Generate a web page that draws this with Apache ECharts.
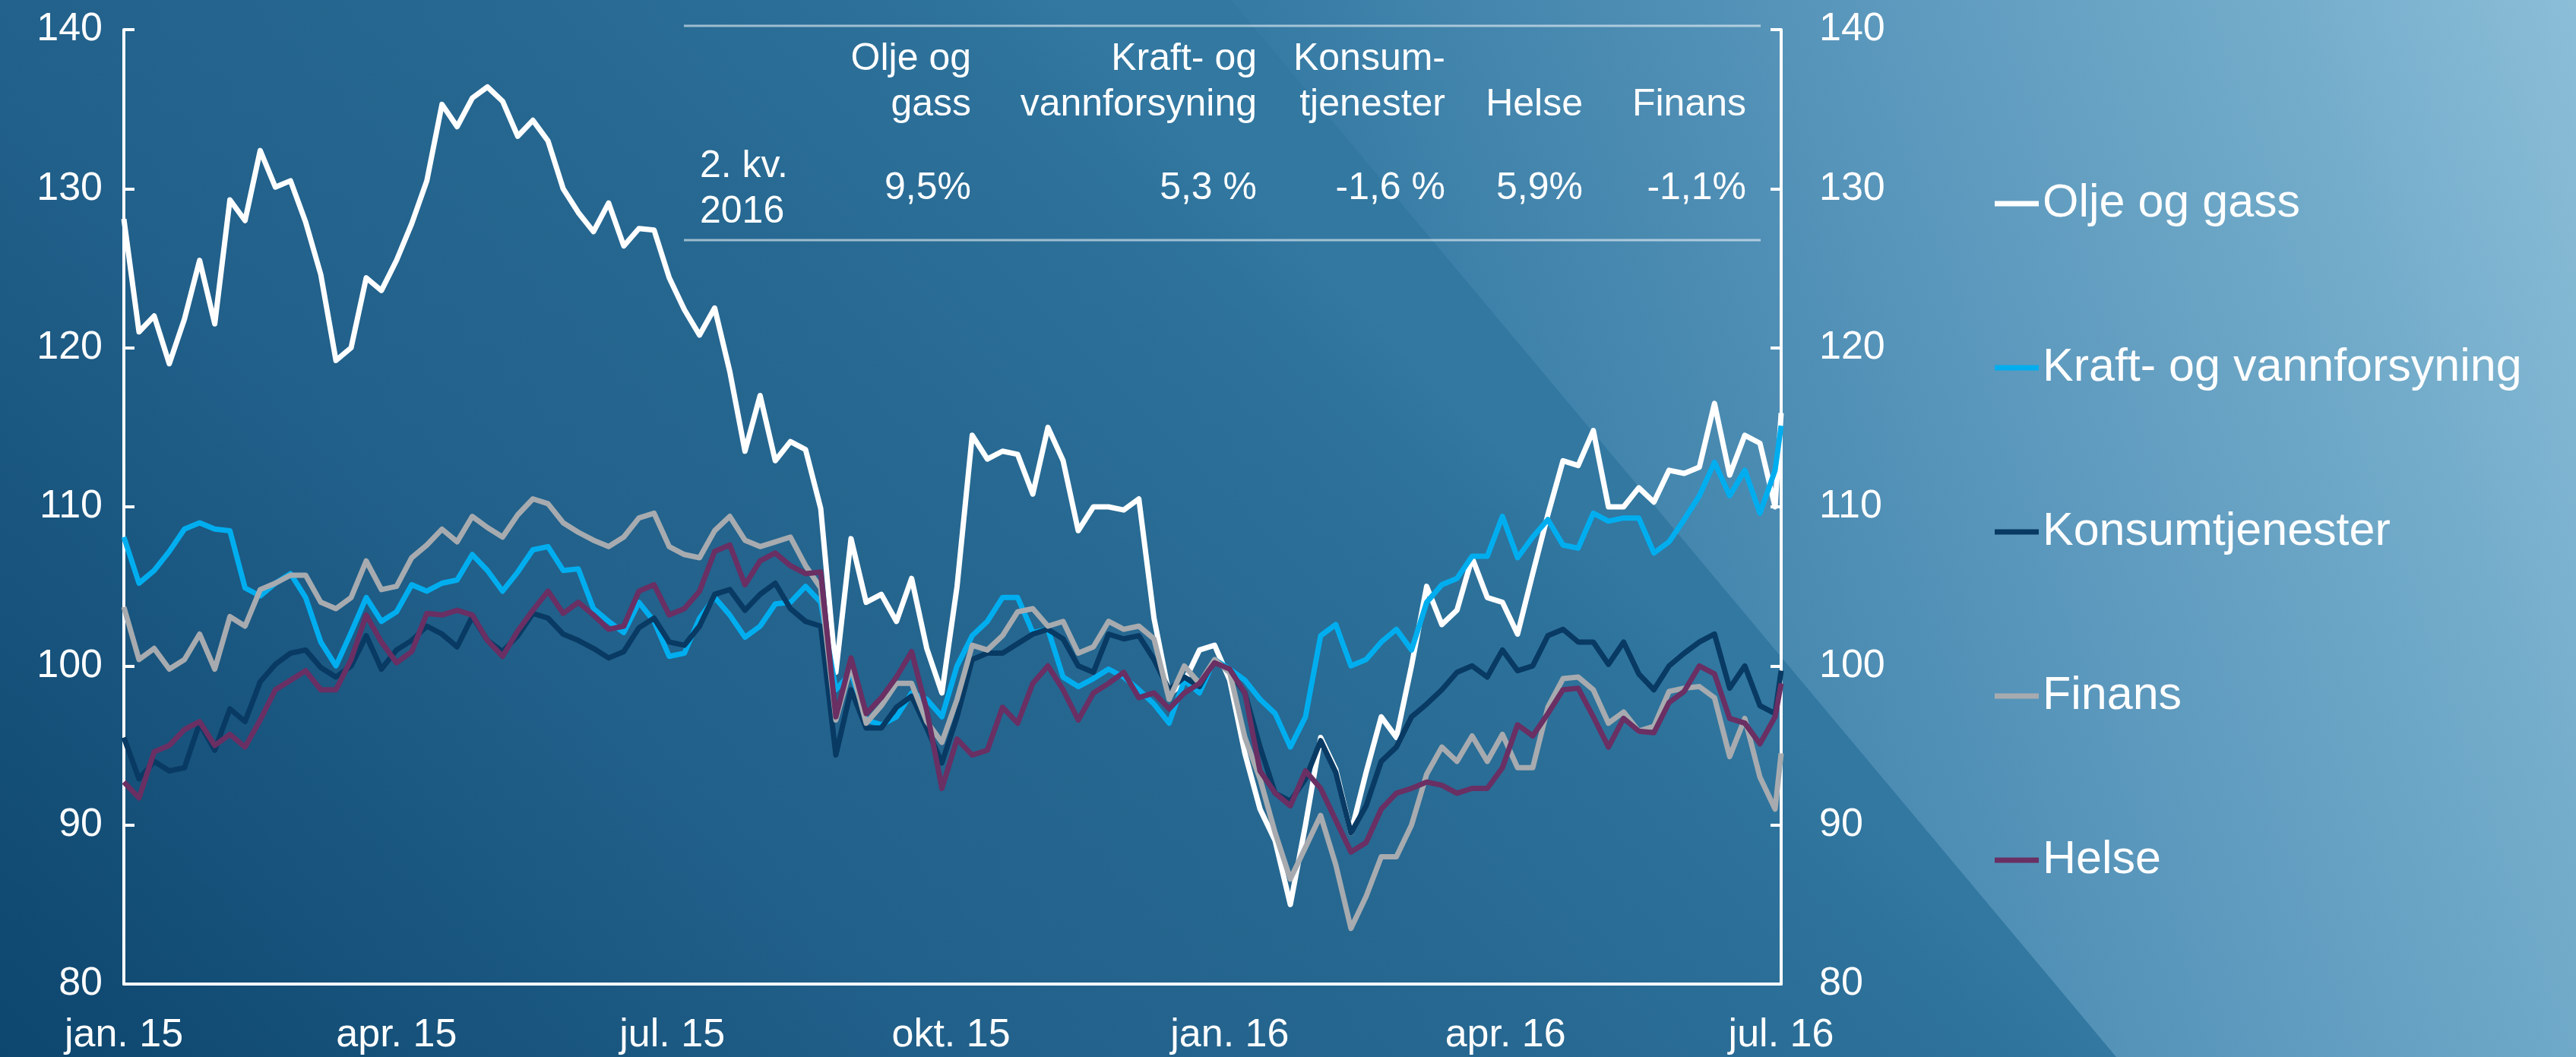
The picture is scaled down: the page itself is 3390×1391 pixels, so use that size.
<!DOCTYPE html>
<html>
<head>
<meta charset="utf-8">
<title>Sektorindekser</title>
<script src="https://cdn.jsdelivr.net/npm/echarts@6/dist/echarts.min.js"></script>
<style>
  html, body { margin: 0; padding: 0; background: #1d5c86; }
  #chart { width: 3390px; height: 1391px; }
</style>
</head>
<body>
<div id="chart"></div>
<script>
// Indeks, 1. jan 2015 = 100 (lest av figuren, ca. hver 5. dag)
const dates = [
  '2015-01-01','2015-01-06','2015-01-11','2015-01-16','2015-01-21','2015-01-26','2015-01-31','2015-02-05','2015-02-10','2015-02-15',
  '2015-02-20','2015-02-25','2015-03-02','2015-03-07','2015-03-12','2015-03-17','2015-03-22','2015-03-27','2015-04-01','2015-04-06',
  '2015-04-11','2015-04-16','2015-04-21','2015-04-26','2015-05-01','2015-05-06','2015-05-11','2015-05-16','2015-05-21','2015-05-26',
  '2015-05-31','2015-06-05','2015-06-10','2015-06-15','2015-06-20','2015-06-25','2015-06-30','2015-07-05','2015-07-10','2015-07-15',
  '2015-07-20','2015-07-25','2015-07-30','2015-08-04','2015-08-09','2015-08-14','2015-08-19','2015-08-24','2015-08-29','2015-09-03',
  '2015-09-08','2015-09-13','2015-09-18','2015-09-23','2015-09-28','2015-10-03','2015-10-08','2015-10-13','2015-10-18','2015-10-23',
  '2015-10-28','2015-11-02','2015-11-07','2015-11-12','2015-11-17','2015-11-22','2015-11-27','2015-12-02','2015-12-07','2015-12-12',
  '2015-12-17','2015-12-22','2015-12-27','2016-01-01','2016-01-06','2016-01-11','2016-01-16','2016-01-21','2016-01-26','2016-01-31',
  '2016-02-05','2016-02-10','2016-02-15','2016-02-20','2016-02-25','2016-03-01','2016-03-06','2016-03-11','2016-03-16','2016-03-21',
  '2016-03-26','2016-03-31','2016-04-05','2016-04-10','2016-04-15','2016-04-20','2016-04-25','2016-04-30','2016-05-05','2016-05-10',
  '2016-05-15','2016-05-20','2016-05-25','2016-05-30','2016-06-04','2016-06-09','2016-06-14','2016-06-19','2016-06-24','2016-06-29',
  '2016-07-01'
];

const oljeGass = [
  128.1, 121.0, 122.0, 119.0, 121.8, 125.5, 121.5, 129.3, 128.0, 132.4,
  130.1, 130.5, 127.9, 124.6, 119.2, 120.0, 124.4, 123.6, 125.5, 127.8,
  130.5, 135.3, 133.9, 135.7, 136.4, 135.5, 133.3, 134.3, 133.0, 130.0,
  128.5, 127.3, 129.1, 126.4, 127.5, 127.4, 124.4, 122.4, 120.8, 122.5,
  118.5, 113.5, 117.0, 112.9, 114.1, 113.6, 109.9, 99.6, 108.0, 104.0,
  104.5, 102.8, 105.5, 101.1, 98.3, 105.0, 114.5, 113.0, 113.5, 113.3,
  110.8, 115.0, 112.9, 108.5, 110.0, 110.0, 109.8, 110.5, 103.0, 98.2,
  99.0, 101.0, 101.3, 99.1, 94.5, 91.0, 89.0, 85.0, 90.0, 95.5,
  93.5, 89.5, 93.3, 96.8, 95.5, 100.0, 105.0, 102.6, 103.5, 106.8,
  104.3, 104.0, 102.0, 105.8, 109.5, 112.9, 112.6, 114.8, 110.0, 110.0,
  111.2, 110.3, 112.3, 112.1, 112.5, 116.5, 112.0, 114.5, 114.0, 110.0,
  115.9
];

const kraftVann = [
  108.1, 105.2, 106.0, 107.2, 108.6, 109.0, 108.6, 108.5, 104.9, 104.4,
  105.2, 105.8, 104.3, 101.5, 100.0, 102.1, 104.3, 102.8, 103.4, 105.1,
  104.7, 105.2, 105.4, 107.0, 106.0, 104.7, 105.9, 107.3, 107.5, 106.0,
  106.1, 103.6, 102.8, 102.1, 104.0, 102.8, 100.6, 100.8, 103.0, 104.3,
  103.2, 101.8, 102.5, 103.9, 104.0, 105.0, 104.0, 98.5, 99.6, 96.6,
  96.3, 96.8, 98.3, 97.9, 96.8, 100.0, 101.9, 102.8, 104.3, 104.3,
  102.1, 102.3, 99.3, 98.7, 99.2, 99.8, 99.3, 98.5, 97.6, 96.4,
  99.1, 98.3, 100.4, 99.8, 99.1, 97.9, 97.0, 94.9, 96.8, 101.9,
  102.6, 100.0, 100.4, 101.5, 102.3, 101.0, 104.0, 105.1, 105.5, 106.9,
  106.9, 109.4, 106.8, 108.1, 109.2, 107.6, 107.4, 109.6, 109.1, 109.3,
  109.3, 107.1, 107.8, 109.2, 110.7, 112.8, 110.7, 112.3, 109.6, 112.3,
  115.1
];

const konsum = [
  95.5, 92.9, 94.0, 93.4, 93.6, 96.4, 94.7, 97.3, 96.5, 99.0,
  100.1, 100.8, 101.0, 99.9, 99.3, 100.0, 101.9, 99.8, 101.0, 101.6,
  102.5, 102.0, 101.2, 103.1, 101.6, 100.9, 101.9, 103.3, 103.0, 102.0,
  101.6, 101.1, 100.5, 100.9, 102.4, 103.0, 101.5, 101.3, 102.5, 104.5,
  104.8, 103.5, 104.5, 105.2, 103.6, 102.8, 102.5, 94.4, 98.5, 96.1,
  96.1, 97.4, 98.1, 96.1, 93.9, 96.8, 100.4, 100.8, 100.8, 101.4,
  102.0, 102.3, 101.7, 100.0, 99.6, 102.0, 101.7, 101.9, 100.4, 98.5,
  99.3, 98.7, 100.4, 99.6, 98.3, 94.9, 92.0, 91.5, 92.9, 95.3,
  93.3, 89.5, 91.2, 94.0, 94.9, 96.8, 97.6, 98.5, 99.6, 100.0,
  99.3, 101.0, 99.7, 100.0, 101.9, 102.3, 101.5, 101.5, 100.1, 101.5,
  99.5, 98.5, 100.0, 100.8, 101.5, 102.0, 98.6, 100.0, 97.5, 97.0,
  99.7
];

const finans = [
  103.7, 100.4, 101.1, 99.8, 100.4, 102.0, 99.8, 103.1, 102.5, 104.8,
  105.2, 105.7, 105.7, 104.0, 103.6, 104.3, 106.6, 104.8, 105.0, 106.8,
  107.6, 108.6, 107.8, 109.4, 108.7, 108.1, 109.5, 110.5, 110.2, 109.0,
  108.4, 107.9, 107.5, 108.1, 109.3, 109.6, 107.5, 107.0, 106.8, 108.5,
  109.4, 107.9, 107.5, 107.8, 108.1, 106.3, 104.9, 96.6, 100.0, 96.4,
  97.5, 98.9, 98.9, 96.5, 95.2, 97.9, 101.3, 101.0, 101.9, 103.4,
  103.6, 102.5, 102.8, 100.8, 101.2, 102.8, 102.3, 102.5, 101.7, 97.9,
  100.0, 98.9, 100.4, 99.6, 95.5, 92.9, 89.5, 86.6, 88.6, 90.6,
  87.5, 83.5, 85.5, 88.0, 88.0, 90.0, 93.2, 94.9, 94.0, 95.6,
  94.0, 95.7, 93.6, 93.6, 97.4, 99.2, 99.3, 98.5, 96.4, 97.1,
  95.9, 96.2, 98.4, 98.6, 98.7, 98.0, 94.3, 96.7, 93.0, 91.0,
  94.5
];

const helse = [
  92.7, 91.7, 94.6, 95.0, 96.0, 96.5, 95.0, 95.7, 94.9, 96.6,
  98.5, 99.1, 99.7, 98.5, 98.5, 100.4, 103.2, 101.5, 100.2, 100.9,
  103.3, 103.2, 103.5, 103.2, 101.6, 100.6, 102.2, 103.5, 104.7, 103.3,
  104.0, 103.2, 102.3, 102.5, 104.7, 105.1, 103.2, 103.6, 104.7, 107.2,
  107.6, 105.1, 106.6, 107.1, 106.3, 105.8, 105.9, 96.8, 100.5, 97.0,
  98.0, 99.3, 100.9, 97.2, 92.3, 95.4, 94.4, 94.7, 97.4, 96.4,
  98.9, 100.0, 98.5, 96.6, 98.3, 98.9, 99.6, 98.0, 98.3, 97.3,
  98.3, 98.9, 100.2, 99.8, 98.3, 93.4, 92.0, 91.2, 93.4, 92.3,
  90.3, 88.3, 88.9, 91.0, 92.0, 92.3, 92.7, 92.5, 92.0, 92.3,
  92.3, 93.6, 96.3, 95.6, 97.0, 98.5, 98.6, 96.8, 94.9, 96.7,
  95.9, 95.8, 97.7, 98.4, 100.0, 99.5, 96.7, 96.4, 95.1, 96.8,
  98.9
];

const seriesNames = ['Olje og gass', 'Kraft- og vannforsyning', 'Konsumtjenester', 'Finans', 'Helse'];
const seriesColors = ['#ffffff', '#00aeef', '#083a64', '#a7abaf', '#6a2f63'];

const tickDates = ['2015-01-01', '2015-04-01', '2015-07-01', '2015-10-01', '2016-01-01', '2016-04-01', '2016-07-01'];
const tickLabels = ['jan. 15', 'apr. 15', 'jul. 15', 'okt. 15', 'jan. 16', 'apr. 16', 'jul. 16'];

// tabell: avkastning 2. kvartal 2016
const tableHeaders = [['Olje og', 'gass'], ['Kraft- og', 'vannforsyning'], ['Konsum-', 'tjenester'], ['', 'Helse'], ['', 'Finans']];
const tableValues = ['9,5%', '5,3 %', '-1,6 %', '5,9%', '-1,1%'];
const tablePeriod = ['2. kv.', '2016'];

const FONT = '"Liberation Sans", Arial, Helvetica, sans-serif';

// dager etter 1. jan 2015
function dayIndex(s) {
  const p = s.split('-');
  return Math.round((Date.UTC(+p[0], +p[1] - 1, +p[2]) - Date.UTC(2015, 0, 1)) / 86400000);
}

const chart = echarts.init(document.getElementById('chart'));

const tickDays = tickDates.map(dayIndex);
const allValues = [oljeGass, kraftVann, konsum, finans, helse];

// bakgrunn: mørk venstre flate + lys diagonal flate til høyre
const colRight = [1278, 1654, 1902, 2083, 2298];
const graphics = [
  {
    type: 'rect', silent: true, z: -20,
    shape: { x: 0, y: 0, width: 3390, height: 1391 },
    style: {
      fill: new echarts.graphic.LinearGradient(0, 1391, 1400, 0, [
        { offset: 0, color: '#0d466e' },
        { offset: 0.45, color: '#21608a' },
        { offset: 0.75, color: '#276992' },
        { offset: 0.95, color: '#2e739c' },
        { offset: 1, color: '#3278a1' }
      ], true)
    }
  },
  {
    type: 'polygon', silent: true, z: -19,
    shape: { points: [[1620, 0], [3390, 0], [3390, 1391], [2785, 1391]] },
    style: {
      fill: new echarts.graphic.LinearGradient(1650, 0, 3390, -600, [
        { offset: 0, color: '#367ba4' },
        { offset: 0.4, color: '#5a97bc' },
        { offset: 0.7, color: '#74adcb' },
        { offset: 1, color: '#98c7de' }
      ], true)
    }
  },
  { type: 'line', silent: true, shape: { x1: 900, y1: 34, x2: 2317, y2: 34 }, style: { stroke: 'rgba(255,255,255,0.55)', lineWidth: 3 } },
  { type: 'line', silent: true, shape: { x1: 900, y1: 316, x2: 2317, y2: 316 }, style: { stroke: 'rgba(255,255,255,0.55)', lineWidth: 3 } }
];

const textStyle = (text, align) => ({ text: text, fill: '#ffffff', font: '50px ' + FONT, align: align, verticalAlign: 'middle' });

tableHeaders.forEach((h, i) => {
  graphics.push({ type: 'text', silent: true, x: colRight[i], y: 78, style: textStyle(h[0], 'right') });
  graphics.push({ type: 'text', silent: true, x: colRight[i], y: 138, style: textStyle(h[1], 'right') });
  graphics.push({ type: 'text', silent: true, x: colRight[i], y: 248, style: textStyle(tableValues[i], 'right') });
});
graphics.push({ type: 'text', silent: true, x: 921, y: 219, style: textStyle(tablePeriod[0], 'left') });
graphics.push({ type: 'text', silent: true, x: 921, y: 279, style: textStyle(tablePeriod[1], 'left') });

const axisY = (pos, margin) => ({
  type: 'value',
  position: pos,
  min: 80,
  max: 140,
  interval: 10,
  axisLine: { show: true, lineStyle: { color: '#ffffff', width: 4 } },
  axisTick: { show: true, inside: true, length: 14, lineStyle: { color: '#ffffff', width: 4 } },
  axisLabel: { color: '#ffffff', fontSize: 52, fontFamily: FONT, margin: margin },
  splitLine: { show: false }
});

const option = {
  animation: false,
  backgroundColor: 'transparent',
  graphic: { elements: graphics },
  grid: { left: 163, right: 1046, top: 39, bottom: 96 },
  legend: {
    orient: 'vertical',
    left: 2620,
    top: 232,
    itemWidth: 58,
    itemHeight: 7,
    itemGap: 154,
    icon: 'rect',
    selectedMode: false,
    textStyle: { color: '#ffffff', fontSize: 61, lineHeight: 62, fontFamily: FONT },
    data: seriesNames
  },
  xAxis: {
    type: 'value',
    min: tickDays[0],
    max: tickDays[tickDays.length - 1],
    axisLine: { show: true, onZero: false, lineStyle: { color: '#ffffff', width: 4 } },
    axisTick: { show: false },
    splitLine: { show: false },
    axisLabel: {
      color: '#ffffff',
      fontSize: 52,
      fontFamily: FONT,
      margin: 42,
      customValues: tickDays,
      showMinLabel: true,
      showMaxLabel: true,
      hideOverlap: false,
      formatter: function (val) {
        const idx = tickDays.indexOf(val);
        return idx >= 0 ? tickLabels[idx] : '';
      }
    }
  },
  yAxis: [axisY('left', 28), axisY('right', 50)],
  series: seriesNames.map((name, i) => ({
    name: name,
    type: 'line',
    showSymbol: false,
    symbol: 'none',
    z: 2 + i,
    color: seriesColors[i],
    lineStyle: { width: 7, color: seriesColors[i], join: 'round' },
    emphasis: { disabled: true },
    data: dates.map((d, k) => [dayIndex(d), allValues[i][k]])
  }))
};

chart.setOption(option);
</script>
</body>
</html>
